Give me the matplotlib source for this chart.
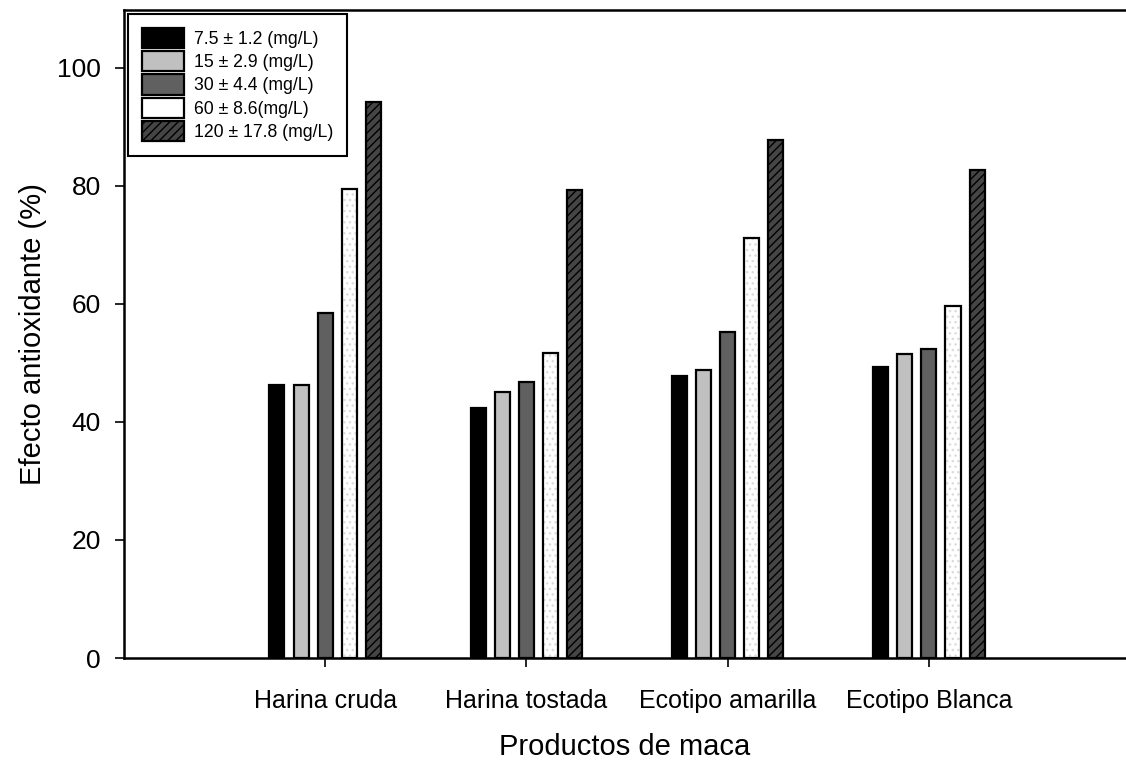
import matplotlib
matplotlib.use('Agg')
import matplotlib.pyplot as plt
import numpy as np

plt.rcParams['font.family'] = ['Liberation Sans', 'DejaVu Sans']
plt.rcParams['hatch.linewidth'] = 1.0

# ─── Data ────────────────────────────────────────────────────────────────────
products = ["Harina cruda", "Harina tostada", "Ecotipo amarilla", "Ecotipo Blanca"]
series_labels = ["7.5 ± 1.2 (mg/L)", "15 ± 2.9 (mg/L)", "30 ± 4.4 (mg/L)",
                 "60 ± 8.6(mg/L)", "120 ± 17.8 (mg/L)"]
conc_7_5 = [46.3, 42.3, 47.8, 49.3]
conc_15 = [46.2, 45.0, 48.8, 51.5]
conc_30 = [58.4, 46.7, 55.3, 52.3]
conc_60 = [79.5, 51.6, 71.2, 59.6]
conc_120 = [94.2, 79.3, 87.8, 82.7]
series = [conc_7_5, conc_15, conc_30, conc_60, conc_120]

# ─── Style ───────────────────────────────────────────────────────────────────
FACES = ["#000000", "#c0c0c0", "#606060", "#ffffff", "#454545"]
HATCHES = [None, None, None, None, "////"]
BAR_W = 0.075
BAR_STEP = 0.12

fig = plt.figure(figsize=(11.26, 7.63), dpi=100)
ax = fig.add_axes([124 / 1126, 105 / 763, 1 - 124 / 1126, 648 / 763])

x = np.arange(1, len(products) + 1)
for i, (vals, lab, fc, h) in enumerate(zip(series, series_labels, FACES, HATCHES)):
    off = (i - 2) * BAR_STEP
    if fc == "#ffffff":
        # faint dotted fill, as in the original
        ax.bar(x + off, vals, width=BAR_W, color=fc, edgecolor="#dcdcdc",
               linewidth=0, hatch="...", zorder=2)
        ax.bar(x + off, vals, width=BAR_W, fill=False, edgecolor="black",
               linewidth=1.6, label=lab, zorder=3)
    else:
        ax.bar(x + off, vals, width=BAR_W, color=fc, edgecolor="black",
               linewidth=1.6, hatch=h, label=lab, zorder=2)

ax.set_xlim(0, 4.98)
ax.set_ylim(0, 109.8)
ax.set_xticks(x)
ax.set_xticklabels(products, fontsize=18)
ax.set_yticks([0, 20, 40, 60, 80, 100])
ax.tick_params(axis="y", labelsize=19, direction="out", length=6.5, width=1.2, pad=10)
ax.tick_params(axis="x", direction="out", length=6.5, width=1.2, pad=16)

ax.spines["right"].set_visible(False)
for s in ("left", "bottom", "top"):
    ax.spines[s].set_linewidth(1.8)

ax.set_xlabel("Productos de maca", fontsize=21, labelpad=14)
ax.set_ylabel("Efecto antioxidante (%)", fontsize=21, labelpad=7)

leg = ax.legend(loc="upper left", fontsize=12.7, frameon=True, fancybox=False,
                edgecolor="black", borderaxespad=0.2, handlelength=2.4,
                handleheight=1.4, handletextpad=0.55, labelspacing=0.17,
                borderpad=0.8)
leg.get_frame().set_linewidth(1.5)
leg.get_frame().set_alpha(1)

fig.savefig("out.png", dpi=100, facecolor="white")
